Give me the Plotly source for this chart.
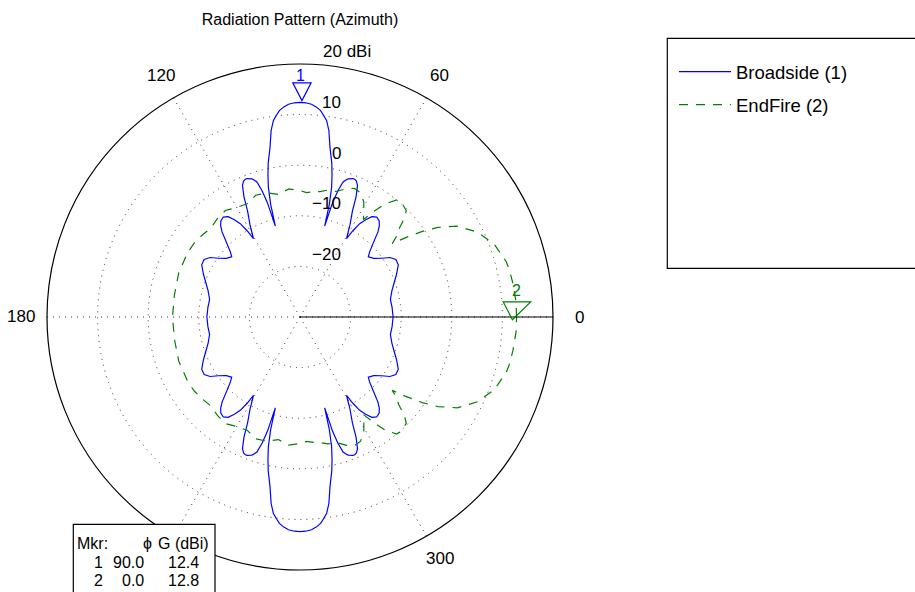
import math
import plotly.graph_objects as go

W, H = 915, 592

# Broadside array: first quadrant of the azimuth cut (deg, dBi).
# The pattern is symmetric about both the 0-180 and the 90-270 axes.
bs_phi_q = [0, 6, 11, 16, 20, 24, 28, 31, 33.5, 35.7, 38.5, 41.4, 43, 45.2, 47.5,
            49, 50.5, 52.5, 54.4, 56, 57.4, 58.5, 59.3, 61.5, 63.7, 65, 66.4, 67.5,
            68.2, 69, 70.8, 71.6, 72.3, 73.3, 74.1, 74.8, 75.4, 76.3, 77.3, 78.3, 80,
            81.2, 82.3, 83.4, 84.3, 85.5, 86.9, 88.5, 90]
bs_gain_q = [-11.6, -11.7, -11.8, -11.1, -10.2, -9.1, -8.0, -7.9, -8.7, -10.1, -11.4,
             -12.0, -11.2, -9.5, -7.2, -6.1, -5.4, -5.1, -5.6, -6.8, -8.1, -10.0,
             -12.0, -9.3, -6.6, -3.8, -1.6, -0.9, -0.75, -0.7, -1.1, -1.5, -2.0, -4.0,
             -6.5, -11.4, -7.0, -3.6, -1.2, 1.0, 4.1, 7.3, 9.2, 10.2, 11.0, 11.6,
             12.1, 12.35, 12.4]

# Endfire array: upper half of the azimuth cut (deg, dBi), symmetric about 0-180.
ef_phi_h = [0, 4, 9, 13, 15, 20.5, 25.5, 30, 33, 35, 37, 38.5, 40, 41.5, 43.5, 45,
            48, 50.5, 53, 55, 57, 59, 61, 64, 67, 70, 74, 77.5, 81, 84, 87, 90,
            95, 100, 105, 110, 115, 120, 125, 130, 135, 140, 145, 150, 160, 170, 180]
ef_gain_h = [12.8, 12.8, 12.6, 12.4, 12.2, 11.0, 8.9, 5.9, 2.5, -0.5, -4.0, -6.7,
             -5.0, -4.0, -1.5, -0.3, 0.2, 0.0, -2.0, -4.5, -7.0, -5.5, -4.0, -2.7,
             -2.4, -3.0, -4.2, -4.3, -4.9, -5.1, -5.4, -5.0, -4.6, -5.4, -4.6,
             -4.4, -5.3, -5.0, -4.3, -4.6, -5.1, -4.8, -4.5, -4.4, -4.5, -4.8, -4.8]

# Pattern markers
mkr_ids = [1, 2]
mkr_phi = [90.0, 0.0]
mkr_gain = [12.4, 12.8]
mkr_names = ["Broadside (1)", "EndFire (2)"]

# Axes
r_min, r_max = -30, 20
r_ticks = [-20, -10, 0, 10, 20]
ang_ticks = [0, 60, 120, 180, 240, 300]

BLUE = "#0000FF"
GREEN = "#008000"
FONT = "Liberation Sans, Arial, Helvetica, sans-serif"
FS = 17

# full 360-degree curves from the symmetric pieces
bs_phi = (bs_phi_q + [180 - a for a in reversed(bs_phi_q)]
          + [180 + a for a in bs_phi_q] + [360 - a for a in reversed(bs_phi_q)])
bs_gain = bs_gain_q + bs_gain_q[::-1] + bs_gain_q + bs_gain_q[::-1]
ef_phi = ef_phi_h + [360 - a for a in reversed(ef_phi_h)]
ef_gain = ef_gain_h + ef_gain_h[::-1]

# polar plot placement (pixels)
cx, cy, R = 300.0, 317.0, 253.0


def px(x):
    return x / W


def py(y):
    return 1 - y / H


def r_px(v):
    return (v - r_min) / (r_max - r_min) * R


def to_xy(phi, v):
    rp = r_px(v)
    return cx + rp * math.cos(math.radians(phi)), cy - rp * math.sin(math.radians(phi))


fig = go.Figure()
fig.add_trace(go.Scatterpolar(theta=bs_phi, r=bs_gain, mode="lines", name=mkr_names[0],
                              legendgroup="a", line=dict(color=BLUE, width=1.2)))
fig.add_trace(go.Scatterpolar(theta=ef_phi, r=ef_gain, mode="lines", name=mkr_names[1],
                              legendgroup="b",
                              line=dict(color=GREEN, width=1.2, dash="9px,8px")))

grid = dict(showgrid=True, gridcolor="#333", griddash="1px,5px", gridwidth=1)
fig.update_layout(
    width=W, height=H,
    margin=dict(l=0, r=0, t=0, b=0),
    paper_bgcolor="white",
    font=dict(family=FONT, size=FS, color="black"),
    title=dict(text="Radiation Pattern (Azimuth)", x=px(cx), xref="paper", xanchor="center",
               y=py(19), yanchor="middle", font=dict(size=16)),
    polar=dict(
        domain=dict(x=[px(cx - R), px(cx + R)], y=[py(cy + R), py(cy - R)]),
        bgcolor="white",
        angularaxis=dict(rotation=0, direction="counterclockwise", tickmode="array",
                         tickvals=ang_ticks, showticklabels=False, ticks="",
                         showline=True, linecolor="black", linewidth=1.2, **grid),
        radialaxis=dict(range=[r_min, r_max], tickmode="array", tickvals=r_ticks[:-1],
                        showticklabels=False, ticks="", angle=0,
                        showline=True, linecolor="black", linewidth=1.2, **grid),
    ),
    legend=dict(x=px(674), y=py(53), xanchor="left", yanchor="top",
                bgcolor="rgba(0,0,0,0)", borderwidth=0, itemwidth=52,
                font=dict(size=18.5), tracegroupgap=6),
)

shapes = []
ann = []

# angular labels (240 lies under the marker table)
for a in ang_ticks:
    if a == 240:
        continue
    x = cx + (R + 26) * math.cos(math.radians(a))
    y = cy - (R + 26) * math.sin(math.radians(a))
    ann.append(dict(x=px(x), y=py(y), text=str(a), showarrow=False,
                    xanchor="center", yanchor="middle"))

# radial labels, right-aligned just above each ring
for v in r_ticks:
    y = cy - r_px(v) - 12
    txt = str(v).replace("-", "\u2212")
    if v == r_max:
        ann.append(dict(x=px(342 - 21), y=py(y), text=txt + " dBi", showarrow=False,
                        xanchor="left", yanchor="middle"))
    else:
        ann.append(dict(x=px(343), y=py(y), text=txt, showarrow=False,
                        xanchor="right", yanchor="middle"))

# pattern markers: downward triangles whose tip sits on the marked gain
for i, phi, g, col in zip(mkr_ids, mkr_phi, mkr_gain, [BLUE, GREEN]):
    tx, ty = to_xy(phi, g)
    path = "M{:.2f},{:.2f} L{:.2f},{:.2f} L{:.2f},{:.2f} Z".format(
        px(tx - 10.8), py(ty - 16.7), px(tx + 10.8), py(ty - 16.7), px(tx), py(ty))
    shapes.append(dict(type="path", path=path, xref="paper", yref="paper",
                       line=dict(color=col, width=1.2), fillcolor="rgba(0,0,0,0)"))
    ann.append(dict(x=px(tx), y=py(ty - 27), text=str(i), showarrow=False,
                    xanchor="center", yanchor="middle", font=dict(color=col, size=16)))

# legend frame
shapes.append(dict(type="rect", xref="paper", yref="paper",
                   x0=px(667.3), x1=px(935), y0=py(268.3), y1=py(38.3),
                   line=dict(color="black", width=1.2), fillcolor="rgba(0,0,0,0)",
                   layer="below"))

# marker table
TFS = 16
shapes.append(dict(type="rect", xref="paper", yref="paper",
                   x0=px(73.3), x1=px(215), y0=py(610), y1=py(524.3),
                   line=dict(color="black", width=1.2), fillcolor="white", layer="above"))
row_y = [543.3, 562.3, 580.5]
ann.append(dict(x=px(92.7), y=py(row_y[0]), text="Mkr:", showarrow=False,
                xanchor="center", yanchor="middle", font=dict(size=TFS)))
ann.append(dict(x=px(147.5), y=py(row_y[0]), text="\u03d5", showarrow=False,
                xanchor="center", yanchor="middle", font=dict(size=TFS)))
ann.append(dict(x=px(183.5), y=py(row_y[0]), text="G (dBi)", showarrow=False,
                xanchor="center", yanchor="middle", font=dict(size=TFS)))
for k, (i, phi, g) in enumerate(zip(mkr_ids, mkr_phi, mkr_gain)):
    yy = py(row_y[k + 1])
    ann.append(dict(x=px(98.3), y=yy, text=str(i), showarrow=False,
                    xanchor="center", yanchor="middle", font=dict(size=TFS)))
    ann.append(dict(x=px(146), y=yy, text=f"{phi:.1f}", showarrow=False,
                    xanchor="right", yanchor="middle", font=dict(size=TFS)))
    ann.append(dict(x=px(183), y=yy, text=f"{g:.1f}", showarrow=False,
                    xanchor="center", yanchor="middle", font=dict(size=TFS)))

fig.update_layout(shapes=shapes, annotations=ann)
fig.write_html("out.html")
